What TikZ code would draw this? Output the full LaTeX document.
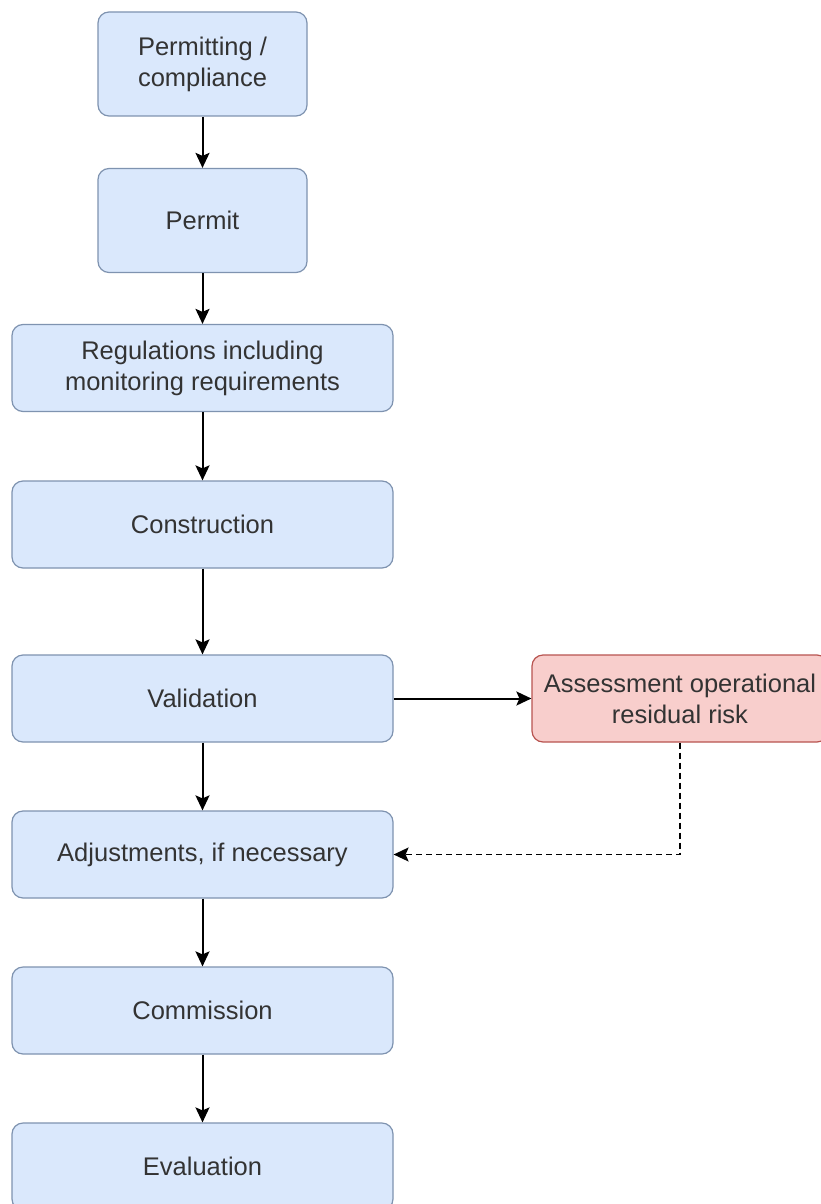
\documentclass[tikz,border=0pt]{standalone}
\usepackage{fontspec}
\setmainfont{Liberation Sans}
\usetikzlibrary{arrows.meta}
\definecolor{bfill}{HTML}{DAE8FC}
\definecolor{bdraw}{HTML}{7F93B0}
\definecolor{rfill}{HTML}{F8CECC}
\definecolor{rdraw}{HTML}{B85450}
\definecolor{txt}{HTML}{333333}
\begin{document}
\begin{tikzpicture}[x=1pt,y=-1pt,
  box/.style={draw=bdraw, fill=bfill, rounded corners=11pt, line width=1.2pt,
    inner sep=0pt, align=center, text=txt,
    font=\fontsize{25.5}{31}\selectfont},
  wide/.style={box, minimum width=381pt, minimum height=87pt},
  narrow/.style={box, minimum width=209pt, minimum height=104pt},
  redbox/.style={box, draw=rdraw, fill=rfill, minimum width=296pt, minimum height=87pt},
  conn/.style={line width=2pt, -{Stealth[length=15pt,width=14pt,inset=3pt]}}]
\useasboundingbox (0,0) rectangle (820,1204);
\fill[white] (0,0) rectangle (820,1204);
\node[narrow] (pc) at (202.5,64) {Permitting /\\compliance};
\node[narrow] (pe) at (202.5,220.5) {Permit};
\node[wide] (re) at (202.5,368) {Regulations including\\monitoring requirements};
\node[wide] (co) at (202.5,524.5) {Construction};
\node[wide] (va) at (202.5,698.5) {Validation};
\node[wide] (ad) at (202.5,854.5) {Adjustments, if necessary};
\node[wide] (cm) at (202.5,1010.5) {Commission};
\node[wide] (ev) at (202.5,1166.5) {Evaluation};
\node[redbox] (as) at (680,698.5) {Assessment operational\\residual risk};
\draw[conn] (pc) -- (pe);
\draw[conn] (pe) -- (re);
\draw[conn] (re) -- (co);
\draw[conn] (co) -- (va);
\draw[conn] (va) -- (ad);
\draw[conn] (ad) -- (cm);
\draw[conn] (cm) -- (ev);
\draw[conn] (va) -- (as);
\draw[conn, dash pattern=on 6pt off 4pt, line width=1.6pt] (as.south) |- (ad.east);
\end{tikzpicture}
\end{document}
